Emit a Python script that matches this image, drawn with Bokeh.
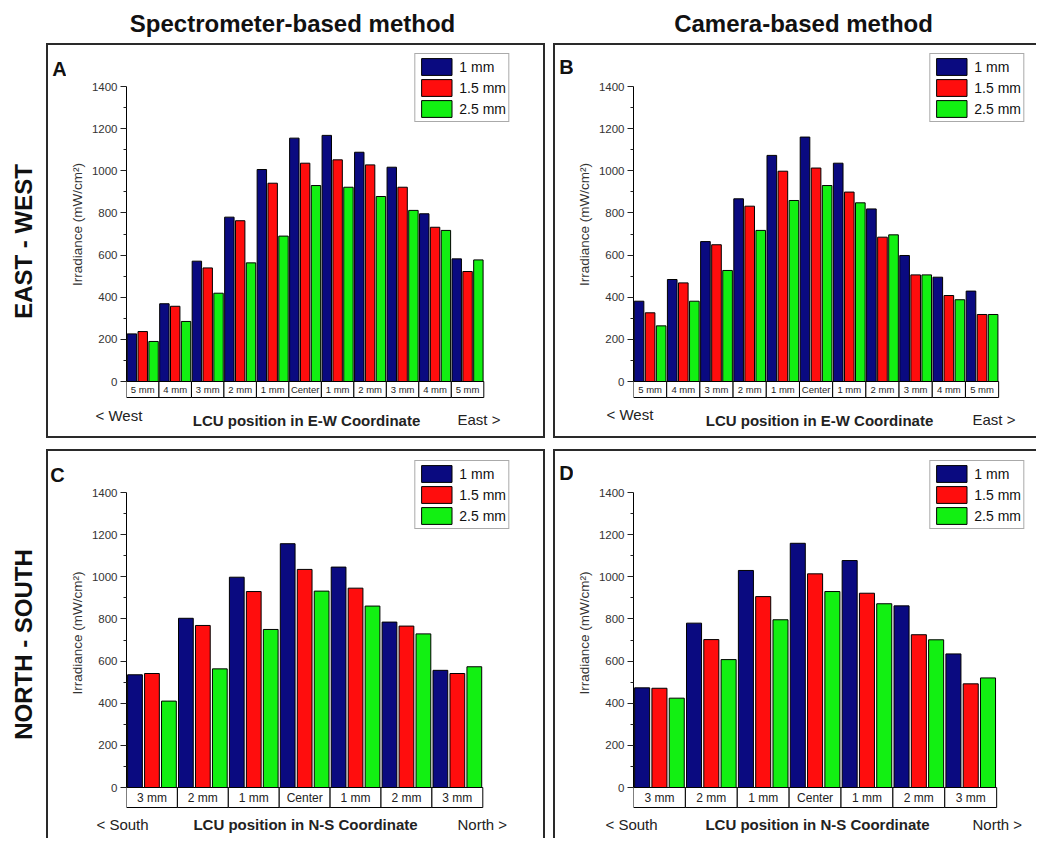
import math
from bokeh.plotting import figure
from bokeh.layouts import row, column
from bokeh.models import Range1d, FixedTicker, Legend, LegendItem
from bokeh.core.properties import value
from bokeh.embed import file_html
from bokeh.resources import INLINE

# ---------------- data ----------------
ew_categories = ["5 mm", "4 mm", "3 mm", "2 mm", "1 mm", "Center", "1 mm", "2 mm", "3 mm", "4 mm", "5 mm"]
ns_categories = ["3 mm", "2 mm", "1 mm", "Center", "1 mm", "2 mm", "3 mm"]
series_labels = ["1 mm", "1.5 mm", "2.5 mm"]

spec_ew_1mm = [226, 369, 571, 780, 1006, 1155, 1168, 1088, 1017, 796, 582]
spec_ew_15mm = [237, 357, 539, 763, 941, 1036, 1052, 1028, 922, 732, 522]
spec_ew_25mm = [190, 285, 419, 563, 690, 930, 922, 878, 812, 717, 577]

cam_ew_1mm = [381, 484, 664, 867, 1073, 1160, 1036, 819, 598, 495, 429]
cam_ew_15mm = [326, 468, 649, 832, 998, 1013, 899, 685, 506, 408, 318]
cam_ew_25mm = [264, 381, 527, 717, 859, 930, 848, 696, 506, 388, 318]

spec_ns_1mm = [535, 803, 998, 1157, 1046, 785, 556]
spec_ns_15mm = [541, 769, 930, 1035, 946, 766, 541]
spec_ns_25mm = [410, 563, 750, 932, 861, 729, 573]

cam_ns_1mm = [473, 780, 1030, 1159, 1077, 862, 634]
cam_ns_15mm = [471, 702, 906, 1014, 922, 725, 492]
cam_ns_25mm = [424, 607, 796, 930, 872, 701, 520]

y_ticks = [0, 200, 400, 600, 800, 1000, 1200, 1400]
y_minor = [100, 300, 500, 700, 900, 1100, 1300]

column_titles = ["Spectrometer-based method", "Camera-based method"]
row_titles = ["EAST - WEST", "NORTH - SOUTH"]

COLORS = ["#0a0a80", "#ff0d0d", "#12f012"]
FONT = "Liberation Sans"
BORDER = "#2a2a2a"
LETTER_W = 20
PAGE_W = 1036
PAGE_H = 838


def blank(w, h):
    f = figure(width=w, height=h, output_backend="svg", toolbar_location=None,
               x_axis_location=None, y_axis_location=None, min_border=0,
               x_range=Range1d(0, w), y_range=Range1d(0, h),
               background_fill_color=None, border_fill_color=None)
    f.outline_line_color = None
    f.grid.visible = False
    return f


def sh(top=True, left=True, right=True, bottom=True):
    parts = []
    if left:
        parts.append("inset 2px 0 0 0 " + BORDER)
    if top:
        parts.append("inset 0 2px 0 0 " + BORDER)
    if right:
        parts.append("inset -2px 0 0 0 " + BORDER)
    if bottom:
        parts.append("inset 0 -2px 0 0 " + BORDER)
    return ", ".join(parts)


def make_panel(letter, cats, series, g, captions, cell_font, shadow):
    bl, bt, bw, bh = g["box"]
    br = bl + bw
    n = len(cats)
    main_left = bl + LETTER_W
    main_bottom = g["cell_bottom"] + 1
    main_h = main_bottom - bt
    cap_h = bh - main_h
    ppx = (g["bars_x1"] - g["axis_x"]) / n
    ppu = 295.0 / 1400.0

    def dx(px):
        return (px - g["axis_x"]) / ppx

    def dy(py):
        return (g["zero_y"] - py) / ppu

    # --- letter strip ---
    lf = blank(LETTER_W, main_h)
    lx, ly = g["letter"]
    lf.text(x=[lx - bl], y=[main_bottom - ly], text=[letter], text_font=value(FONT),
            text_font_size=value("20px"), text_font_style="bold", text_color="#111111",
            text_align="center", text_baseline="middle")

    # --- main plot ---
    p = figure(width=bw - LETTER_W, height=main_h, output_backend="svg", toolbar_location=None,
               x_axis_location=None, y_axis_location="left",
               x_range=Range1d(dx(g["axis_x"]), dx(g["frame_right"])),
               y_range=Range1d(dy(main_bottom), dy(g["frame_top"])),
               min_border=0,
               min_border_left=g["axis_x"] - main_left, min_border_right=br - g["frame_right"],
               min_border_top=g["frame_top"] - bt, min_border_bottom=0,
               background_fill_color=None, border_fill_color=None)
    p.outline_line_color = None
    p.grid.visible = False

    cell_bottom = dy(g["cell_bottom"])
    p.quad(left=list(range(n)), right=[i + 1 for i in range(n)],
           bottom=[cell_bottom] * n, top=[0] * n,
           fill_color="white", line_color="black", line_width=1)
    p.text(x=[i + 0.5 for i in range(n)], y=[cell_bottom / 2.0] * n, text=cats,
           text_font=value(FONT), text_font_size=value(cell_font), text_color="#222222",
           text_align="center", text_baseline="middle")

    renderers = []
    offsets = [1 / 6.0, 0.5, 5 / 6.0]
    for k, vals in enumerate(series):
        r = p.vbar(x=[i + offsets[k] for i in range(n)], top=vals, width=0.29, bottom=0,
                   fill_color=COLORS[k], line_color="black", line_width=1)
        renderers.append(r)

    legend = Legend(items=[LegendItem(label=series_labels[k], renderers=[renderers[k]]) for k in range(3)],
                    location="top_right", margin=3, padding=2, spacing=0,
                    glyph_width=38, glyph_height=21, label_height=19,
                    label_standoff=4, label_text_font=FONT, label_text_font_size="14px",
                    label_text_color="#111111",
                    border_line_color="#555555", border_line_width=1,
                    background_fill_color="white", background_fill_alpha=1)
    p.add_layout(legend)

    ax = p.yaxis[0]
    ax.ticker = FixedTicker(ticks=y_ticks, minor_ticks=y_minor)
    ax.bounds = (0, 1400)
    ax.axis_line_color = "black"
    ax.axis_line_width = 1
    ax.major_tick_out = 6
    ax.major_tick_in = 0
    ax.minor_tick_out = 3
    ax.minor_tick_in = 0
    ax.major_tick_line_color = "#222222"
    ax.minor_tick_line_color = "#222222"
    ax.major_label_text_font = FONT
    ax.major_label_text_font_size = "11.5px"
    ax.major_label_text_color = "#333333"
    ax.major_label_standoff = 3
    ax.axis_label = "Irradiance (mW/cm²)"
    ax.axis_label_text_font = FONT
    ax.axis_label_text_font_size = "13.5px"
    ax.axis_label_text_font_style = "normal"
    ax.axis_label_text_color = "#333333"
    ax.axis_label_standoff = 4

    # --- caption strip ---
    cf = blank(bw, cap_h)
    cap_bottom = bt + bh
    (wx, wy), (mx, my), (ex, ey) = g["left_txt"], g["mid_txt"], g["right_txt"]
    cf.text(x=[wx - bl, ex - bl], y=[cap_bottom - wy, cap_bottom - ey],
            text=[captions[0], captions[2]], text_font=value(FONT), text_font_size=value("15px"),
            text_color="#222222", text_align="left", text_baseline="middle")
    cf.text(x=[mx - bl], y=[cap_bottom - my], text=[captions[1]], text_font=value(FONT),
            text_font_size=value("15px"), text_font_style="bold", text_color="#222222",
            text_align="center", text_baseline="middle")

    return column(row(lf, p), cf, styles={"box-shadow": shadow})


geo_A = dict(box=(46, 43, 499, 395), axis_x=122, bars_x1=483, zero_y=381, frame_top=50,
             frame_right=512, cell_bottom=397, letter=(59, 62),
             left_txt=(95, 415), mid_txt=(306, 420), right_txt=(457, 419))
geo_B = dict(box=(553, 43, PAGE_W - 553, 395), axis_x=631, bars_x1=998, zero_y=381, frame_top=50,
             frame_right=1027, cell_bottom=397, letter=(566, 60),
             left_txt=(606, 414), mid_txt=(819, 420), right_txt=(972, 419))
geo_C = dict(box=(46, 449, 499, PAGE_H - 449), axis_x=122, bars_x1=482, zero_y=787, frame_top=457,
             frame_right=512, cell_bottom=807, letter=(57, 467),
             left_txt=(96, 824), mid_txt=(305, 824), right_txt=(457, 824))
geo_D = dict(box=(553, 449, PAGE_W - 553, PAGE_H - 449), axis_x=631, bars_x1=996, zero_y=787, frame_top=457,
             frame_right=1027, cell_bottom=807, letter=(566, 465),
             left_txt=(605, 824), mid_txt=(817, 824), right_txt=(972, 824))

ew_caps = ["< West", "LCU position in E-W Coordinate", "East >"]
ns_caps = ["< South", "LCU position in N-S Coordinate", "North >"]

pA = make_panel("A", ew_categories, [spec_ew_1mm, spec_ew_15mm, spec_ew_25mm], geo_A, ew_caps, "9.5px", sh())
pB = make_panel("B", ew_categories, [cam_ew_1mm, cam_ew_15mm, cam_ew_25mm], geo_B, ew_caps, "9.5px",
                sh(right=False))
pC = make_panel("C", ns_categories, [spec_ns_1mm, spec_ns_15mm, spec_ns_25mm], geo_C, ns_caps, "12px",
                sh(bottom=False))
pD = make_panel("D", ns_categories, [cam_ns_1mm, cam_ns_15mm, cam_ns_25mm], geo_D, ns_caps, "12px",
                sh(right=False, bottom=False))

# column titles (page x 0..PAGE_W, y 0..43)
tf = blank(PAGE_W, 43)
tf.text(x=[292, 803], y=[43 - 23, 43 - 23], text=column_titles, text_font=value(FONT),
        text_font_size=value("24px"), text_font_style="bold", text_color="#111111",
        text_align="center", text_baseline="middle")

# row titles (page x 0..46, y 43..PAGE_H)
sf = blank(46, PAGE_H - 43)
sf.text(x=[23, 23], y=[PAGE_H - 241, PAGE_H - 644], text=row_titles, text_font=value(FONT),
        text_font_size=value("24px"), text_font_style="bold", text_color="#111111",
        text_align="center", text_baseline="middle", angle=math.pi / 2)

panels = column(row(pA, pB, spacing=8), row(pC, pD, spacing=8), spacing=11)
layout = column(tf, row(sf, panels))

open("out.html", "w").write(file_html(layout, INLINE))
